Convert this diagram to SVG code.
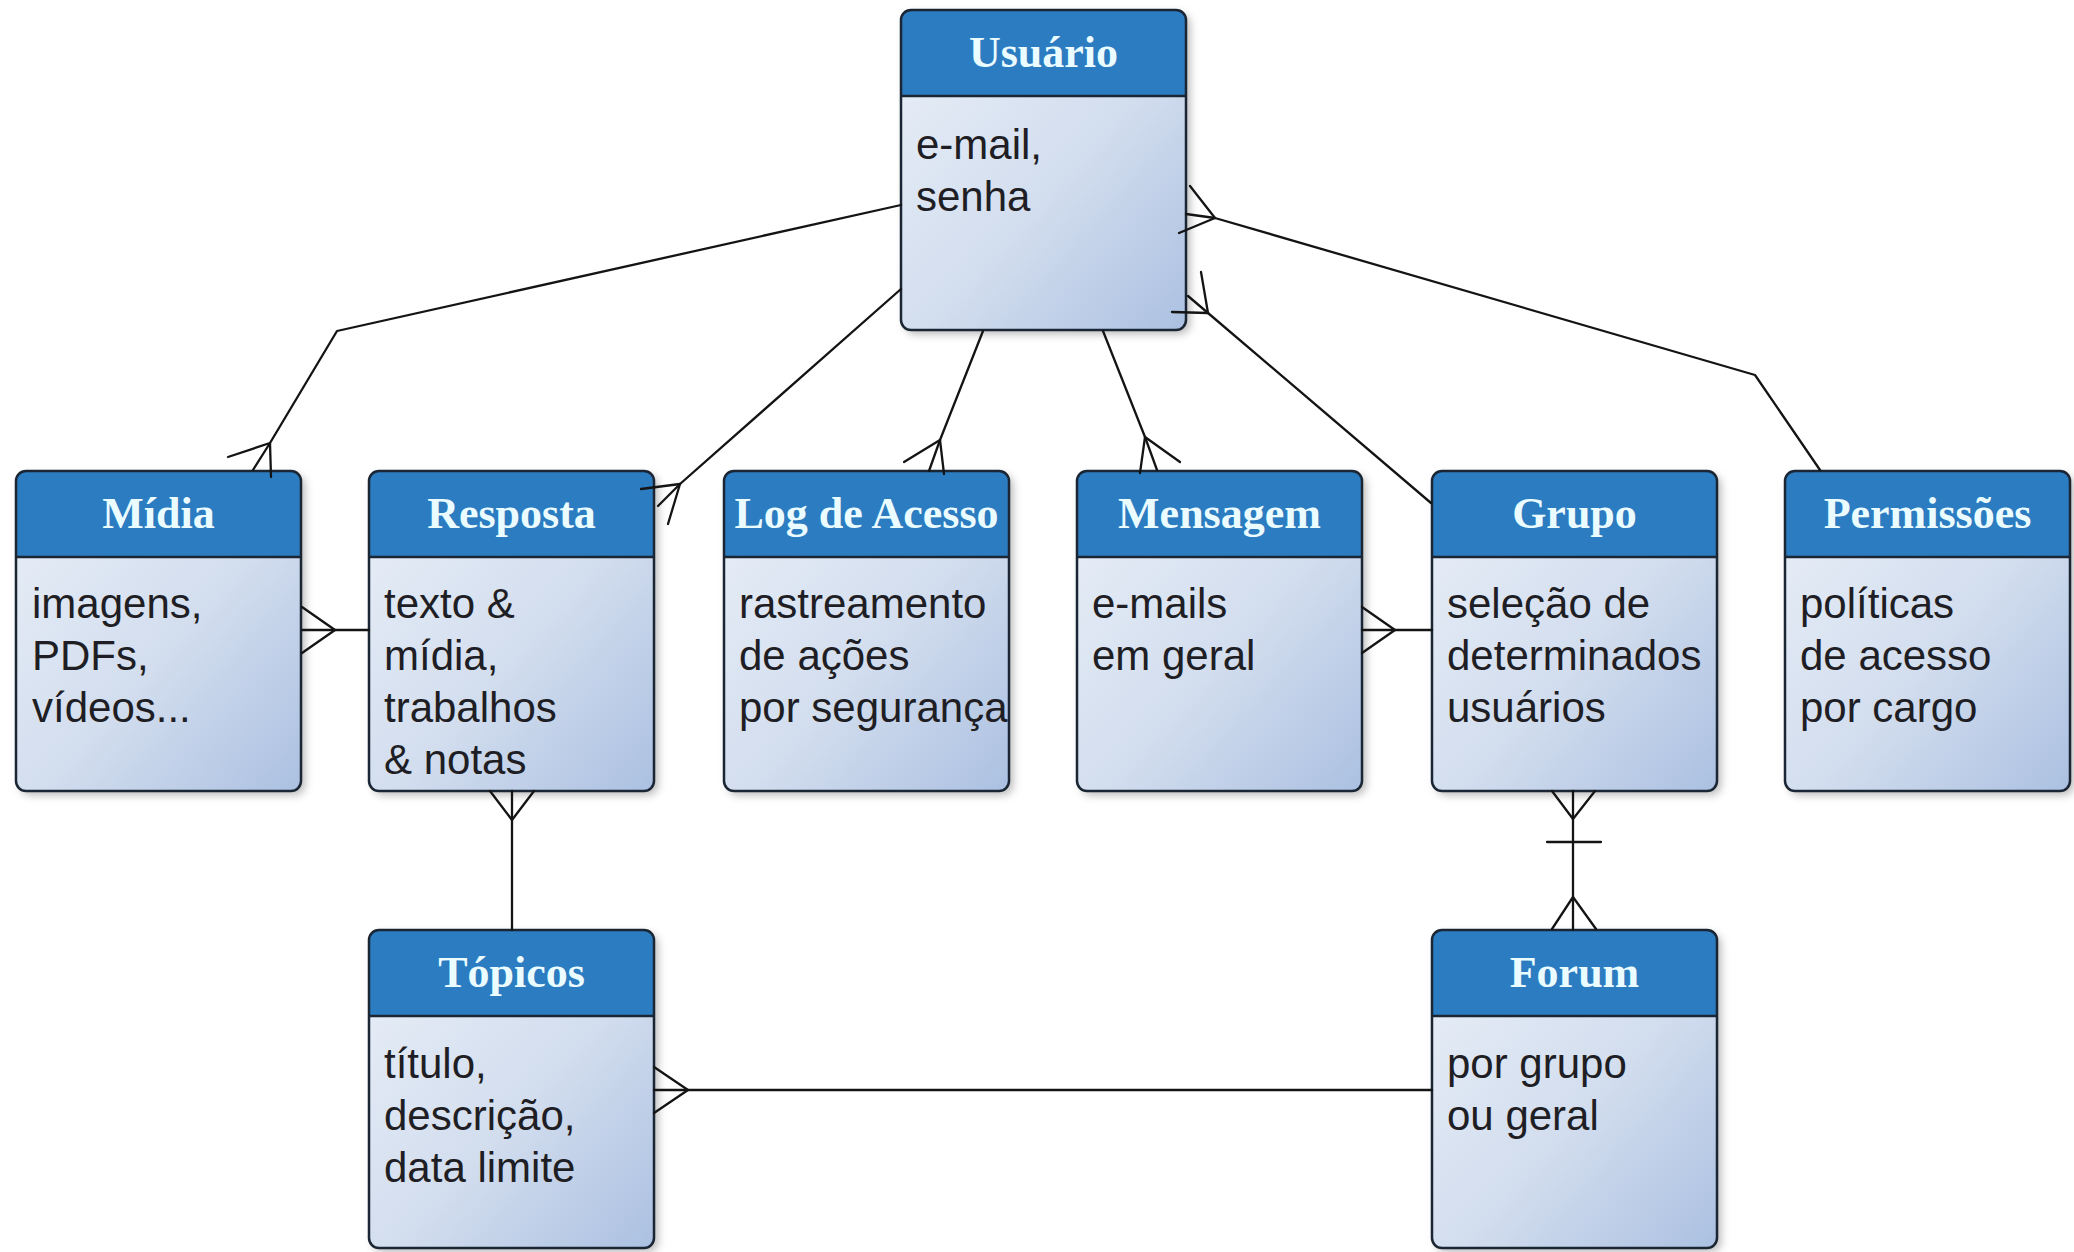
<svg xmlns="http://www.w3.org/2000/svg" width="2074" height="1252" viewBox="0 0 2074 1252">
  <style>
    .body { fill: url(#bodyGrad); }
    .head { fill: #2c7cc1; }
    .sep { stroke: #1b2634; stroke-width: 2.5; }
    .frame { fill: none; stroke: #1b2634; stroke-width: 2.5; }
    .shadow { filter: url(#shadow); }
    .title { font-family: "Liberation Serif", "DejaVu Serif", serif; font-weight: bold; font-size: 44px; fill: #eafcff; text-anchor: middle; }
    .attr { font-family: "Liberation Sans", Arial, sans-serif; font-size: 42px; fill: #1e1e24; }
    .conn { fill: none; stroke: #141414; stroke-width: 2.3; stroke-linejoin: round; stroke-linecap: round; }
  </style>
  <defs>
    <linearGradient id="bodyGrad" x1="0" y1="0" x2="1" y2="1">
      <stop offset="0" stop-color="#eaf0f8"/>
      <stop offset="0.55" stop-color="#d2ddee"/>
      <stop offset="1" stop-color="#abc0e1"/>
    </linearGradient>
    <filter id="shadow" x="-10%" y="-10%" width="130%" height="130%">
      <feDropShadow dx="4" dy="4" stdDeviation="4" flood-color="#000" flood-opacity="0.28"/>
    </filter>
  </defs>
  <rect x="0" y="0" width="2074" height="1252" fill="#ffffff"/>

  <g id="node-usuario">
    <rect class="body shadow" x="901" y="10" width="285" height="320" rx="10"/>
    <path class="head" d="M901,96 V20 Q901,10 911,10 H1176 Q1186,10 1186,20 V96 Z"/>
    <line class="sep" x1="901" y1="96" x2="1186" y2="96"/>
    <rect class="frame" x="901" y="10" width="285" height="320" rx="10"/>
    <text class="title" x="1043.5" y="67">Usuário</text>
    <text class="attr" x="916" y="159">e-mail,</text>
    <text class="attr" x="916" y="211">senha</text>
  </g>

  <g id="node-midia">
    <rect class="body shadow" x="16" y="471" width="285" height="320" rx="10"/>
    <path class="head" d="M16,557 V481 Q16,471 26,471 H291 Q301,471 301,481 V557 Z"/>
    <line class="sep" x1="16" y1="557" x2="301" y2="557"/>
    <rect class="frame" x="16" y="471" width="285" height="320" rx="10"/>
    <text class="title" x="158.5" y="528">Mídia</text>
    <text class="attr" x="32" y="618">imagens,</text>
    <text class="attr" x="32" y="670">PDFs,</text>
    <text class="attr" x="32" y="722">vídeos...</text>
  </g>

  <g id="node-resposta">
    <rect class="body shadow" x="369" y="471" width="285" height="320" rx="10"/>
    <path class="head" d="M369,557 V481 Q369,471 379,471 H644 Q654,471 654,481 V557 Z"/>
    <line class="sep" x1="369" y1="557" x2="654" y2="557"/>
    <rect class="frame" x="369" y="471" width="285" height="320" rx="10"/>
    <text class="title" x="511.5" y="528">Resposta</text>
    <text class="attr" x="384" y="618">texto &amp;</text>
    <text class="attr" x="384" y="670">mídia,</text>
    <text class="attr" x="384" y="722">trabalhos</text>
    <text class="attr" x="384" y="774">&amp; notas</text>
  </g>

  <g id="node-log">
    <rect class="body shadow" x="724" y="471" width="285" height="320" rx="10"/>
    <path class="head" d="M724,557 V481 Q724,471 734,471 H999 Q1009,471 1009,481 V557 Z"/>
    <line class="sep" x1="724" y1="557" x2="1009" y2="557"/>
    <rect class="frame" x="724" y="471" width="285" height="320" rx="10"/>
    <text class="title" x="866.5" y="528">Log de Acesso</text>
    <text class="attr" x="739" y="618">rastreamento</text>
    <text class="attr" x="739" y="670">de ações</text>
    <text class="attr" x="739" y="722">por segurança</text>
  </g>

  <g id="node-mensagem">
    <rect class="body shadow" x="1077" y="471" width="285" height="320" rx="10"/>
    <path class="head" d="M1077,557 V481 Q1077,471 1087,471 H1352 Q1362,471 1362,481 V557 Z"/>
    <line class="sep" x1="1077" y1="557" x2="1362" y2="557"/>
    <rect class="frame" x="1077" y="471" width="285" height="320" rx="10"/>
    <text class="title" x="1219.5" y="528">Mensagem</text>
    <text class="attr" x="1092" y="618">e-mails</text>
    <text class="attr" x="1092" y="670">em geral</text>
  </g>

  <g id="node-grupo">
    <rect class="body shadow" x="1432" y="471" width="285" height="320" rx="10"/>
    <path class="head" d="M1432,557 V481 Q1432,471 1442,471 H1707 Q1717,471 1717,481 V557 Z"/>
    <line class="sep" x1="1432" y1="557" x2="1717" y2="557"/>
    <rect class="frame" x="1432" y="471" width="285" height="320" rx="10"/>
    <text class="title" x="1574.5" y="528">Grupo</text>
    <text class="attr" x="1447" y="618">seleção de</text>
    <text class="attr" x="1447" y="670">determinados</text>
    <text class="attr" x="1447" y="722">usuários</text>
  </g>

  <g id="node-permissoes">
    <rect class="body shadow" x="1785" y="471" width="285" height="320" rx="10"/>
    <path class="head" d="M1785,557 V481 Q1785,471 1795,471 H2060 Q2070,471 2070,481 V557 Z"/>
    <line class="sep" x1="1785" y1="557" x2="2070" y2="557"/>
    <rect class="frame" x="1785" y="471" width="285" height="320" rx="10"/>
    <text class="title" x="1927.5" y="528">Permissões</text>
    <text class="attr" x="1800" y="618">políticas</text>
    <text class="attr" x="1800" y="670">de acesso</text>
    <text class="attr" x="1800" y="722">por cargo</text>
  </g>

  <g id="node-topicos">
    <rect class="body shadow" x="369" y="930" width="285" height="318" rx="10"/>
    <path class="head" d="M369,1016 V940 Q369,930 379,930 H644 Q654,930 654,940 V1016 Z"/>
    <line class="sep" x1="369" y1="1016" x2="654" y2="1016"/>
    <rect class="frame" x="369" y="930" width="285" height="318" rx="10"/>
    <text class="title" x="511.5" y="987">Tópicos</text>
    <text class="attr" x="384" y="1078">título,</text>
    <text class="attr" x="384" y="1130">descrição,</text>
    <text class="attr" x="384" y="1182">data limite</text>
  </g>

  <g id="node-forum">
    <rect class="body shadow" x="1432" y="930" width="285" height="318" rx="10"/>
    <path class="head" d="M1432,1016 V940 Q1432,930 1442,930 H1707 Q1717,930 1717,940 V1016 Z"/>
    <line class="sep" x1="1432" y1="1016" x2="1717" y2="1016"/>
    <rect class="frame" x="1432" y="930" width="285" height="318" rx="10"/>
    <text class="title" x="1574.5" y="987">Forum</text>
    <text class="attr" x="1447" y="1078">por grupo</text>
    <text class="attr" x="1447" y="1130">ou geral</text>
  </g>

  <g id="connectors">
    <!-- Usuário - Mídia -->
    <polyline class="conn" points="901,205 337,331 270,443 271,477"/>
    <polyline class="conn" points="228,457 270,443 253,470"/>
    <!-- Usuário - Resposta -->
    <line class="conn" x1="901" y1="289" x2="680" y2="484"/>
    <polyline class="conn" points="641,489 680,484 668,524"/>
    <line class="conn" x1="680" y1="484" x2="658" y2="506"/>
    <!-- Usuário - Log de Acesso -->
    <line class="conn" x1="983" y1="331" x2="940" y2="440"/>
    <polyline class="conn" points="904,462 940,440 944,474"/>
    <line class="conn" x1="940" y1="440" x2="929" y2="471"/>
    <!-- Usuário - Mensagem -->
    <line class="conn" x1="1103" y1="331" x2="1145" y2="437"/>
    <polyline class="conn" points="1140,473 1145,437 1180,462"/>
    <line class="conn" x1="1145" y1="437" x2="1157" y2="470"/>
    <!-- Usuário - Permissões -->
    <polyline class="conn" points="1215,218 1755,375 1820,470"/>
    <polyline class="conn" points="1190,186 1215,218 1179,233"/>
    <line class="conn" x1="1215" y1="218" x2="1186" y2="214"/>
    <!-- Usuário - Grupo -->
    <line class="conn" x1="1208" y1="313" x2="1431" y2="503"/>
    <polyline class="conn" points="1201,272 1208,313 1172,312"/>
    <line class="conn" x1="1208" y1="313" x2="1188" y2="296"/>
    <!-- Mídia - Resposta -->
    <line class="conn" x1="369" y1="630" x2="302" y2="630"/>
    <polyline class="conn" points="302,607 335,630 302,653"/>
    <!-- Mensagem - Grupo -->
    <line class="conn" x1="1432" y1="630" x2="1362" y2="630"/>
    <polyline class="conn" points="1362,607 1395,630 1362,653"/>
    <!-- Resposta - Tópicos -->
    <line class="conn" x1="512" y1="930" x2="512" y2="791"/>
    <polyline class="conn" points="490,791 512,820 534,791"/>
    <!-- Grupo - Forum -->
    <line class="conn" x1="1573" y1="791" x2="1573" y2="930"/>
    <polyline class="conn" points="1552,791 1573,819 1595,791"/>
    <line class="conn" x1="1547" y1="842" x2="1601" y2="842"/>
    <polyline class="conn" points="1552,929 1573,897 1596,929"/>
    <!-- Tópicos - Forum -->
    <line class="conn" x1="654" y1="1090" x2="1432" y2="1090"/>
    <polyline class="conn" points="654,1067 688,1090 654,1113"/>
  </g>
</svg>
